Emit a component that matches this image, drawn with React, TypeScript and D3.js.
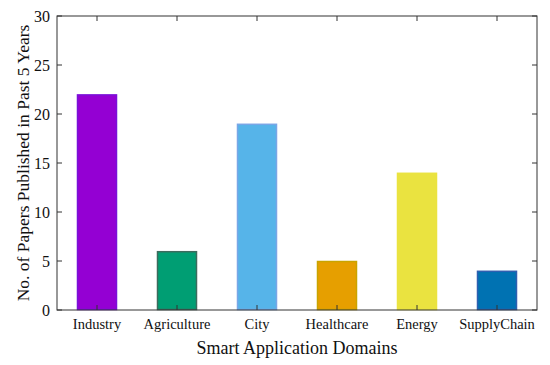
import { useEffect, useRef } from "react"
import * as d3 from "d3"

// data
const domains = ["Industry", "Agriculture", "City", "Healthcare", "Energy", "SupplyChain"]
const papers = [22, 6, 19, 5, 14, 4]
const yTicks = [0, 5, 10, 15, 20, 25, 30]
const fills = ["#9400d3", "#009e73", "#56b4e9", "#e69f00", "#eae340", "#0072b2"]
const strokes = ["#7a10d8", "#3d6b5d", "#7aa6e6", "#c9a400", "#eae340", "#2f5fb0"]

export default function App() {
  const svgRef = useRef<SVGSVGElement>(null)

  useEffect(() => {
    const svg = d3.select(svgRef.current)
    const width = 550
    const height = 365
    const margin = { top: 16, right: 13, bottom: 55, left: 57 }
    const font = "'Liberation Serif', 'Times New Roman', serif"

    svg.selectAll("*").remove()
    svg.attr("width", width).attr("height", height)

    const x = d3
      .scaleLinear()
      .domain([-0.5, domains.length - 0.5])
      .range([margin.left, width - margin.right])

    const y = d3
      .scaleLinear()
      .domain([0, 30])
      .range([height - margin.bottom, margin.top])

    const barW = (x(1) - x(0)) * 0.5

    // Bars
    svg.append("g")
      .selectAll("rect")
      .data(papers)
      .join("rect")
      .attr("x", (_, i) => x(i) - barW / 2 + 0.5)
      .attr("y", d => y(d) + 0.5)
      .attr("width", barW - 1)
      .attr("height", d => y(0) - y(d) - 1)
      .attr("fill", (_, i) => fills[i])
      .attr("stroke", (_, i) => strokes[i])
      .attr("stroke-width", 1.5)

    // Frame
    const axisCol = "#333"
    svg.append("rect")
      .attr("x", x(-0.5))
      .attr("y", y(30))
      .attr("width", x(domains.length - 0.5) - x(-0.5))
      .attr("height", y(0) - y(30))
      .attr("fill", "none")
      .attr("stroke", axisCol)
      .attr("stroke-width", 1)

    const tickLen = 5
    const g = svg.append("g").attr("stroke", axisCol).attr("stroke-width", 1)

    // y ticks, inward on both sides
    yTicks.forEach(t => {
      g.append("line")
        .attr("x1", x(-0.5)).attr("x2", x(-0.5) + tickLen)
        .attr("y1", y(t)).attr("y2", y(t))
      g.append("line")
        .attr("x1", x(domains.length - 0.5)).attr("x2", x(domains.length - 0.5) - tickLen)
        .attr("y1", y(t)).attr("y2", y(t))
    })

    // x ticks, inward top and bottom
    domains.forEach((_, i) => {
      g.append("line")
        .attr("x1", x(i)).attr("x2", x(i))
        .attr("y1", y(30)).attr("y2", y(30) + tickLen)
      g.append("line")
        .attr("x1", x(i)).attr("x2", x(i))
        .attr("y1", y(0)).attr("y2", y(0) - tickLen)
    })

    // y tick labels
    svg.append("g")
      .selectAll("text")
      .data(yTicks)
      .join("text")
      .attr("x", x(-0.5) - 7)
      .attr("y", d => y(d))
      .attr("dy", "0.35em")
      .attr("text-anchor", "end")
      .attr("font-family", font)
      .attr("font-size", 16)
      .attr("fill", "#111")
      .text(d => d)

    // x tick labels
    svg.append("g")
      .selectAll("text")
      .data(domains)
      .join("text")
      .attr("x", (_, i) => x(i))
      .attr("y", y(0) + 19)
      .attr("text-anchor", "middle")
      .attr("font-family", font)
      .attr("font-size", 14.5)
      .attr("fill", "#111")
      .text(d => d)

    // axis titles
    svg.append("text")
      .attr("x", (x(-0.5) + x(domains.length - 0.5)) / 2)
      .attr("y", 354)
      .attr("text-anchor", "middle")
      .attr("font-family", font)
      .attr("font-size", 18)
      .attr("fill", "#111")
      .text("Smart Application Domains")

    svg.append("text")
      .attr("transform", `translate(29,${(y(0) + y(30)) / 2}) rotate(-90)`)
      .attr("text-anchor", "middle")
      .attr("font-family", font)
      .attr("font-size", 17.5)
      .attr("fill", "#111")
      .text("No. of Papers Published in Past 5 Years")
  }, [])

  return (
    <svg
      ref={svgRef}
      style={{ position: "absolute", left: 0, top: 0, display: "block", background: "#fff" }}
    />
  )
}
